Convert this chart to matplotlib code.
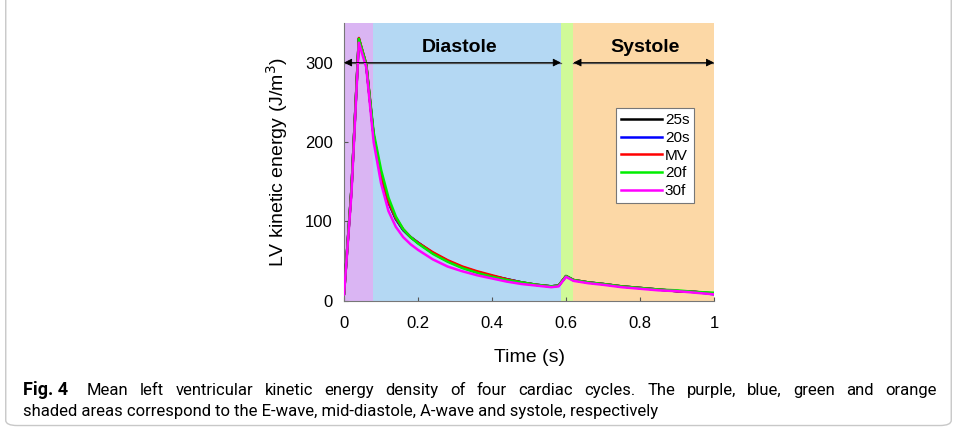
import matplotlib.pyplot as plt
from matplotlib.patches import FancyBboxPatch

# time samples (s)
t = [0, 0.02, 0.04, 0.06, 0.08, 0.10, 0.12, 0.14, 0.16, 0.18, 0.20, 0.24, 0.28,
     0.32, 0.36, 0.40, 0.44, 0.48, 0.52, 0.56, 0.58, 0.60, 0.62, 0.66, 0.70,
     0.75, 0.80, 0.85, 0.90, 0.95, 1.00]

# mean LV kinetic energy density (J/m^3) per model
ke_25s = [9, 140, 330, 297, 208, 158, 124, 103, 89, 80, 73, 60, 50, 42, 36,
          31, 27, 23, 20, 18, 19, 31, 26, 23, 21, 18, 16, 14, 12, 11, 9]
ke_20s = [9, 140, 330, 297, 208, 158, 124, 103, 89, 80, 73, 60, 50, 42, 36,
          31, 27, 23, 20, 18, 19, 31, 26, 23, 21, 18, 16, 14, 12, 11, 8]
ke_mv = [9, 140, 331, 298, 208, 159, 125, 104, 90, 80, 73, 61, 51, 43, 37,
         32, 27, 23, 20, 18, 19, 31, 26, 23, 21, 18, 16, 14, 12, 11, 9]
ke_20f = [9, 140, 330, 298, 212, 165, 130, 106, 90, 80, 72, 59, 49, 41, 35,
          30, 26, 23, 20, 18, 19, 31, 26, 23, 21, 18, 16, 14, 13, 11, 10]
ke_30f = [8, 135, 325, 294, 200, 148, 113, 93, 80, 71, 64, 52, 43, 37, 32,
          28, 24, 21, 19, 17, 18, 30, 25, 22, 20, 17, 15, 13, 12, 10, 8]

series = [("25s", ke_25s, "black"), ("20s", ke_20s, "blue"), ("MV", ke_mv, "red"),
          ("20f", ke_20f, "#00ee00"), ("30f", ke_30f, "magenta")]

# cardiac phases: (start, end, colour)
phases = [(0.0, 0.079, "#dab5f3"), (0.079, 0.586, "#b4d8f3"),
          (0.586, 0.62, "#d0fa98"), (0.62, 1.0, "#fcd8a6")]

caption_1 = ("Mean left ventricular kinetic energy density of four cardiac cycles. "
             "The purple, blue, green and orange")
caption_2 = "shaded areas correspond to the E-wave, mid-diastole, A-wave and systole, respectively"

plt.rcParams['font.family'] = ['Liberation Sans', 'DejaVu Sans']

W, H = 957, 432
fig = plt.figure(figsize=(W / 100, H / 100), dpi=100)
ax = fig.add_axes([0.3595, 0.304, 0.3866, 0.643])

for x0, x1, c in phases:
    ax.axvspan(x0, x1, color=c, lw=0, zorder=0)

for name, vals, c in series:
    ax.plot(t, vals, color=c, lw=1.8, label=name, zorder=3)

# phase arrows
ax.plot([0, 0.586], [300, 300], color="#555555", lw=0.9, zorder=2)
ax.plot([0.62, 1.0], [300, 300], color="#555555", lw=0.9, zorder=2)
for a, b in [(0, 0.586), (0.62, 1.0)]:
    ax.annotate("", xy=(a, 300), xytext=(b, 300),
                arrowprops=dict(arrowstyle="<|-|>", color="black", lw=0.6,
                                mutation_scale=12, shrinkA=0, shrinkB=0), zorder=4)
ax.text(0.313, 319, "Diastole", ha="center", va="center", fontsize=14, fontweight="bold")
ax.text(0.813, 319, "Systole", ha="center", va="center", fontsize=14, fontweight="bold")

ax.set_xlim(0, 1)
ax.set_ylim(0, 350)
ax.set_xticks([0, 0.2, 0.4, 0.6, 0.8, 1])
ax.set_xticklabels(["0", "0.2", "0.4", "0.6", "0.8", "1"])
ax.set_yticks([0, 100, 200, 300])
ax.tick_params(direction="in", labelsize=12, length=3, color="#555555")
ax.tick_params(axis="x", pad=11)
ax.tick_params(axis="y", pad=8)
for s in ["top", "right"]:
    ax.spines[s].set_visible(False)
for s in ["left", "bottom"]:
    ax.spines[s].set_color("#777777")
ax.set_xlabel("Time (s)", fontsize=14, labelpad=13)
ax.set_ylabel("LV kinetic energy (J/m$^3$)", fontsize=14, labelpad=11)

leg = ax.legend(loc="upper left", bbox_to_anchor=(0.735, 0.692), fontsize=11,
                handlelength=2.7, handletextpad=0.2, labelspacing=0.25,
                borderpad=0.3, borderaxespad=0, fancybox=False, framealpha=1)
leg.get_frame().set_edgecolor("#777777")
leg.get_frame().set_linewidth(0.8)

# caption frame
frame = FancyBboxPatch((0.006, 0.015), 0.988, 1.1, transform=fig.transFigure,
                       boxstyle="round,pad=0,rounding_size=0.012",
                       fc="none", ec="#c8c8c8", lw=1.0, clip_on=False)
fig.patches.append(frame)

# caption text; first line justified between x0 and x1 (pixels)
cap_font = ['Roboto', 'DejaVu Sans']
cap_size = 12.0
y1, y2 = 1 - 395 / H, 1 - 416 / H
fig.text(23 / W, y1, "Fig. 4", fontsize=13, fontweight="bold", family=cap_font,
         va="baseline")
renderer = fig.canvas.get_renderer()
words = caption_1.split()
items = [fig.text(0, y1, w, fontsize=cap_size, family=cap_font, va="baseline")
         for w in words]
widths = [it.get_window_extent(renderer).width for it in items]
x0, x1 = 87, 937
gap = (x1 - x0 - sum(widths)) / (len(words) - 1)
x = x0
for it, w in zip(items, widths):
    it.set_x(x / W)
    x += w + gap
fig.text(23 / W, y2, caption_2, fontsize=cap_size, family=cap_font, va="baseline")

fig.savefig("out.png", dpi=100)
